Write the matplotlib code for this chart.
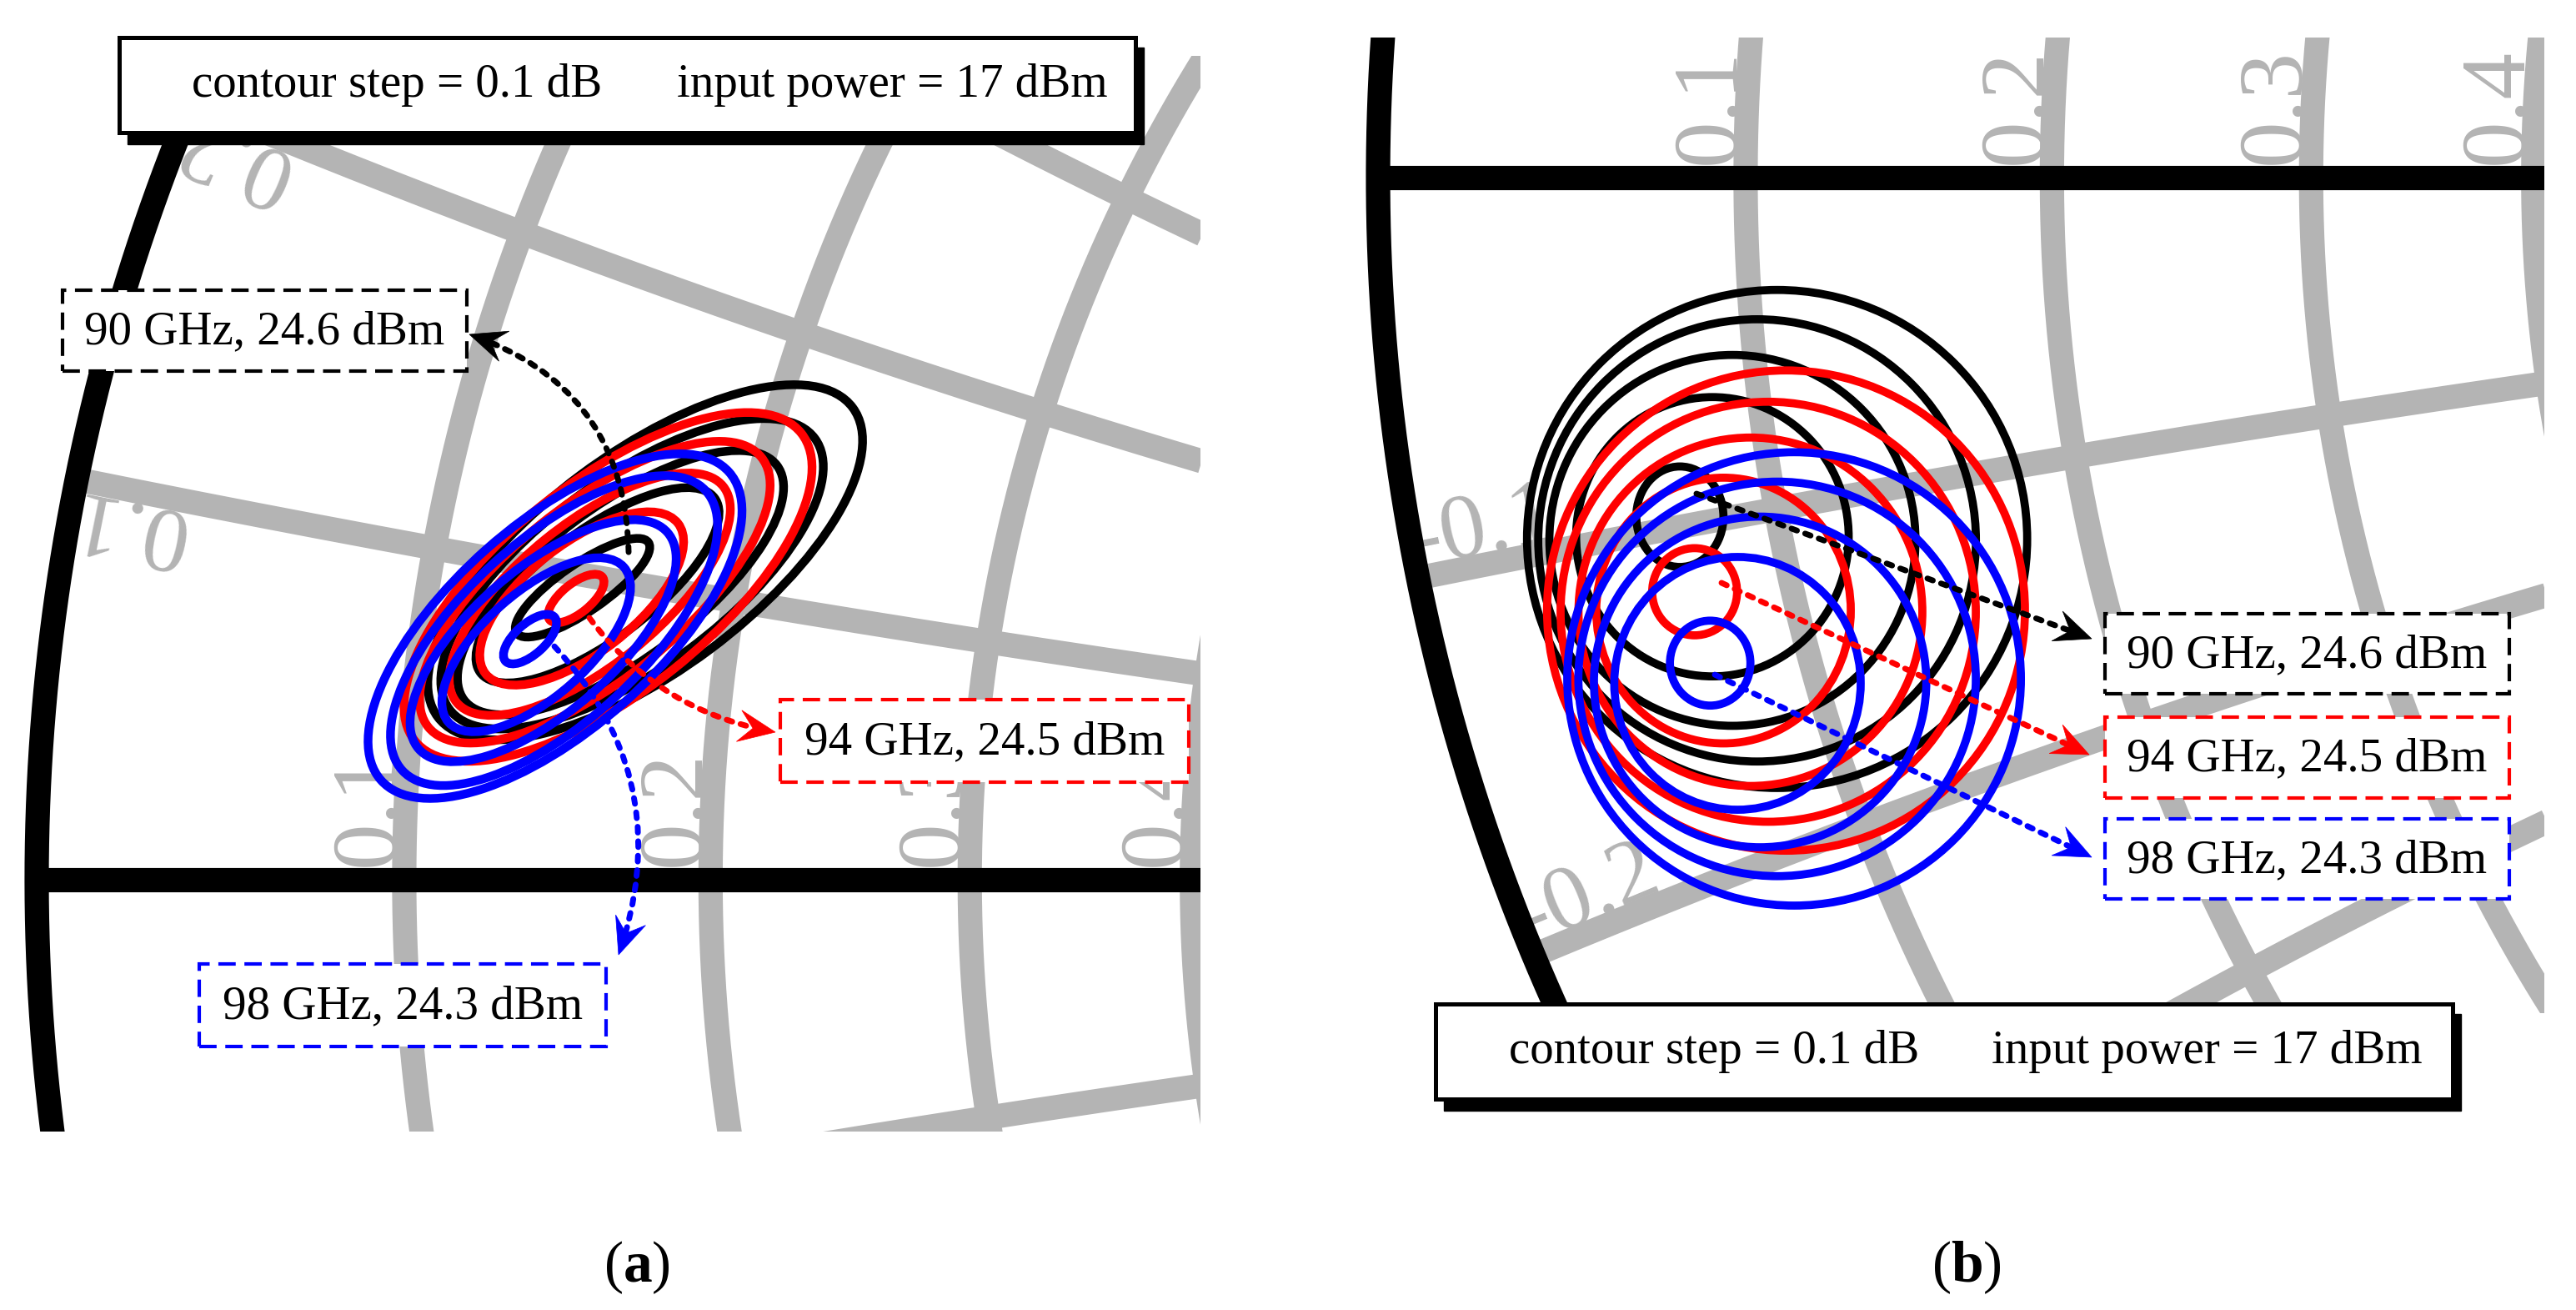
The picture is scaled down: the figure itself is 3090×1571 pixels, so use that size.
import numpy as np
import matplotlib
matplotlib.use('Agg')
import matplotlib.pyplot as plt
from matplotlib.patches import Ellipse, Rectangle, Polygon

plt.rcParams['font.family'] = ['Liberation Serif', 'DejaVu Serif']
plt.rcParams['mathtext.fontset'] = 'custom'
plt.rcParams['mathtext.rm'] = 'Liberation Serif'
plt.rcParams['mathtext.bf'] = 'Liberation Serif:bold'

W, H, DPI = 3090, 1571, 100
GRAY = '#b4b4b4'
COLORS = {'90': 'black', '94': '#ff0000', '98': '#0000ff'}

# Smith chart grid
r_circles = [0.1, 0.2, 0.3, 0.4, 0.5, 1.0]
x_arcs = [0.1, 0.2, 0.3, 0.4, 0.5, 1.0, -0.1, -0.2, -0.3, -0.4, -0.5, -1.0]
r_labels = [0.1, 0.2, 0.3, 0.4]
x_labels_a = [0.1, 0.2]
x_labels_b = [-0.1, -0.2]

# contours of panel (a): (u, v, major, minor, angle) in reflection-coefficient units
a90 = [(-0.7300, 0.1444, 0.0791, 0.0235, 34.5),
       (-0.7226, 0.1456, 0.1445, 0.0540, 36.7),
       (-0.7112, 0.1469, 0.1934, 0.0755, 36.8),
       (-0.7055, 0.1513, 0.2250, 0.0935, 36.5),
       (-0.6990, 0.1570, 0.2560, 0.1075, 36.7)]
a94 = [(-0.7332, 0.1391, 0.0336, 0.0145, 39.0),
       (-0.7304, 0.1391, 0.1208, 0.0540, 38.0),
       (-0.7264, 0.1412, 0.1697, 0.0700, 39.0),
       (-0.7239, 0.1422, 0.2120, 0.0860, 39.0),
       (-0.7174, 0.1448, 0.2443, 0.1040, 38.5)]
a98 = [(-0.7560, 0.1190, 0.0326, 0.0150, 42.0),
       (-0.7529, 0.1162, 0.1158, 0.0520, 41.5),
       (-0.7495, 0.1182, 0.1631, 0.0710, 41.0),
       (-0.7441, 0.1232, 0.2041, 0.0895, 42.7),
       (-0.7436, 0.1254, 0.2299, 0.1020, 41.5)]

# contours of panel (b): (u, v, width, height)
b90 = [(-0.8507, -0.1677, 0.0431, 0.0497),
       (-0.8346, -0.1776, 0.1348, 0.1381),
       (-0.8247, -0.1794, 0.1811, 0.1834),
       (-0.8125, -0.1794, 0.2165, 0.2187),
       (-0.8026, -0.1787, 0.2474, 0.2463)]
b94 = [(-0.8434, -0.2048, 0.0420, 0.0431),
       (-0.8291, -0.2141, 0.1259, 0.1314),
       (-0.8158, -0.2147, 0.1701, 0.1723),
       (-0.8070, -0.2147, 0.2054, 0.2077),
       (-0.7982, -0.2141, 0.2364, 0.2375)]
b98 = [(-0.8357, -0.2401, 0.0398, 0.0420),
       (-0.8222, -0.2501, 0.1219, 0.1250),
       (-0.8110, -0.2494, 0.1644, 0.1635),
       (-0.8026, -0.2479, 0.1966, 0.1951),
       (-0.7942, -0.2479, 0.2244, 0.2242)]

# arrow start points (contour maxima) and label texts
a_starts = {'90': (-0.7072, 0.1620), '94': (-0.7266, 0.1295), '98': (-0.7439, 0.1154)}
b_starts = {'90': (-0.8425, -0.1563), '94': (-0.8301, -0.2004), '98': (-0.8334, -0.2458)}
labels = {'90': '90 GHz, 24.6 dBm', '94': '94 GHz, 24.5 dBm', '98': '98 GHz, 24.3 dBm'}
note_left = 'contour step = 0.1 dB'
note_right = 'input power = 17 dBm'

fig = plt.figure(figsize=(W / DPI, H / DPI), dpi=DPI)
SCALE = 2425.0  # pixels per unit of reflection coefficient
GRID_LW = 21
CONTOUR_LW = 7.5


def make_axes(px_left, px_right, px_top, px_bottom, gx0, gy0):
    # gx0, gy0: figure pixel position of Gamma = -1 (top-down y)
    ax = fig.add_axes([px_left / W, 1 - px_bottom / H,
                       (px_right - px_left) / W, (px_bottom - px_top) / H])
    ax.set_xlim(-1 + (px_left - gx0) / SCALE, -1 + (px_right - gx0) / SCALE)
    ax.set_ylim((gy0 - px_bottom) / SCALE, (gy0 - px_top) / SCALE)
    ax.axis('off')
    return ax


def draw_grid(ax, x_labels):
    t = np.linspace(0, 2 * np.pi, 4000)
    for r in r_circles:
        c, rad = r / (1 + r), 1 / (1 + r)
        ax.plot(c + rad * np.cos(t), rad * np.sin(t), color=GRAY, lw=GRID_LW,
                solid_capstyle='butt', zorder=1)
    rr = np.concatenate([[0], np.geomspace(1e-3, 1e3, 3000)])
    for x in x_arcs:
        g = (rr + 1j * x - 1) / (rr + 1j * x + 1)
        ax.plot(g.real, g.imag, color=GRAY, lw=GRID_LW, solid_capstyle='butt', zorder=1)
    ax.plot(np.cos(t), np.sin(t), color='black', lw=GRID_LW, zorder=2)
    ax.plot([-1, 1], [0, 0], color='black', lw=GRID_LW, solid_capstyle='butt', zorder=2)
    hw = 14 / SCALE
    for r in r_labels:
        ur = (r - 1) / (r + 1)
        ax.text(ur - hw, 0.0065, f'{r:.1f}', rotation=90, rotation_mode='anchor',
                ha='left', va='baseline', color=GRAY, fontsize=80, zorder=1, clip_on=True)
    for x in x_labels:
        p = np.array([(x * x - 1) / (x * x + 1), 2 * x / (x * x + 1)])
        d = -p / np.hypot(*p)
        ang = np.degrees(np.arctan2(d[1], d[0]))
        if x < 0:
            n = np.array([-d[1], d[0]])
            rot, ha = ang, 'left'
        else:
            n = np.array([d[1], -d[0]])
            rot, ha = ang + 180, 'right'
        q = p + n * hw
        ax.text(q[0], q[1], f'{x:.1f}', rotation=rot, rotation_mode='anchor',
                ha=ha, va='baseline', color=GRAY, fontsize=80, zorder=1, clip_on=True)


def fig_rect(x0, y0, x1, y1, **kw):
    rect = Rectangle((x0 / W, 1 - y1 / H), (x1 - x0) / W, (y1 - y0) / H,
                     transform=fig.transFigure, **kw)
    fig.add_artist(rect)


def fig_text(x, y, s, **kw):
    fig.text(x / W, 1 - y / H, s, **kw)


def dotted_arrow(ax, start, tip, color, rad, head_len=44, head_w=19):
    p1 = ax.transData.transform(start)
    p2 = np.array([tip[0], H - tip[1]], float)
    ax.annotate('', xy=p2, xycoords='figure pixels', xytext=start, textcoords='data',
                arrowprops=dict(arrowstyle='-', color=color, lw=5, linestyle=(0, (1, 1.5)),
                                connectionstyle=f'arc3,rad={rad}', shrinkA=0,
                                shrinkB=0.6 * head_len * 72 / DPI),
                zorder=8, annotation_clip=False)
    d = p2 - p1
    c = (p1 + p2) / 2 + rad * np.array([d[1], -d[0]])
    tv = p2 - c
    tv = tv / np.hypot(*tv)
    nv = np.array([-tv[1], tv[0]])
    pts = np.array([p2,
                    p2 - head_len * tv + head_w * nv,
                    p2 - 0.62 * head_len * tv,
                    p2 - head_len * tv - head_w * nv])
    fig.add_artist(Polygon(pts / [W, H], closed=True, transform=fig.transFigure,
                           facecolor=color, edgecolor=color, lw=0.5, zorder=9))


def label_box(x0, y0, x1, y1, text, color):
    fig_rect(x0, y0, x1, y1, facecolor='white', edgecolor=color, lw=3,
             linestyle=(0, (5, 2.5)), zorder=5)
    fig_text((x0 + x1) / 2, (y0 + y1) / 2 + 2, text, ha='center', va='center',
             fontsize=41, zorder=6)


def note_box(x0, y0, x1, y1, tx1, tx2):
    fig_rect(x0 + 10, y0 + 12, x1 + 10, y1 + 14, facecolor='black', edgecolor='black',
             lw=1, zorder=5)
    fig_rect(x0, y0, x1, y1, facecolor='white', edgecolor='black', lw=3.6, zorder=5.5)
    ym = (y0 + y1) / 2
    fig_text(tx1, ym, note_left, ha='left', va='center', fontsize=41, zorder=6)
    fig_text(tx2, ym, note_right, ha='left', va='center', fontsize=41, zorder=6)


# ---------- panel (a) ----------
axa = make_axes(0, 1440, 67, 1357, 44, 1055)
draw_grid(axa, x_labels_a)
for key, data, z in [('90', a90, 3), ('94', a94, 4), ('98', a98, 5)]:
    for u, v, w, h, ang in data:
        axa.add_patch(Ellipse((u, v), w, h, angle=ang, fill=False,
                              ec=COLORS[key], lw=CONTOUR_LW, zorder=z))

dotted_arrow(axa, a_starts['90'], (563, 401), COLORS['90'], 0.35)
dotted_arrow(axa, a_starts['94'], (930, 878), COLORS['94'], 0.2)
dotted_arrow(axa, a_starts['98'], (742, 1145), COLORS['98'], -0.3)
label_box(75, 348, 560, 445, labels['90'], COLORS['90'])
label_box(936, 839, 1426, 938, labels['94'], COLORS['94'])
label_box(239, 1156, 727, 1255, labels['98'], COLORS['98'])
note_box(143, 45, 1362, 159, 230, 812)

# ---------- panel (b) ----------
axb = make_axes(1600, 3052, 45, 1215, 1653, 213)
draw_grid(axb, x_labels_b)
for key, data, z in [('90', b90, 3), ('94', b94, 4), ('98', b98, 5)]:
    for u, v, w, h in data:
        axb.add_patch(Ellipse((u, v), w, h, fill=False, ec=COLORS[key],
                              lw=CONTOUR_LW - 0.5, zorder=z))

dotted_arrow(axb, b_starts['90'], (2509, 766), COLORS['90'], 0.0)
dotted_arrow(axb, b_starts['94'], (2506, 905), COLORS['94'], 0.0)
dotted_arrow(axb, b_starts['98'], (2509, 1028), COLORS['98'], 0.0)
label_box(2525, 736, 3010, 832, labels['90'], COLORS['90'])
label_box(2525, 860, 3010, 957, labels['94'], COLORS['94'])
label_box(2525, 982, 3010, 1078, labels['98'], COLORS['98'])
note_box(1722, 1204, 2942, 1318, 1810, 2389)

fig_text(764, 1520, r'($\mathbf{a}$)', ha='center', va='center', fontsize=50)
fig_text(2359, 1520, r'($\mathbf{b}$)', ha='center', va='center', fontsize=50)

fig.savefig('out.png', dpi=DPI, facecolor='white')
